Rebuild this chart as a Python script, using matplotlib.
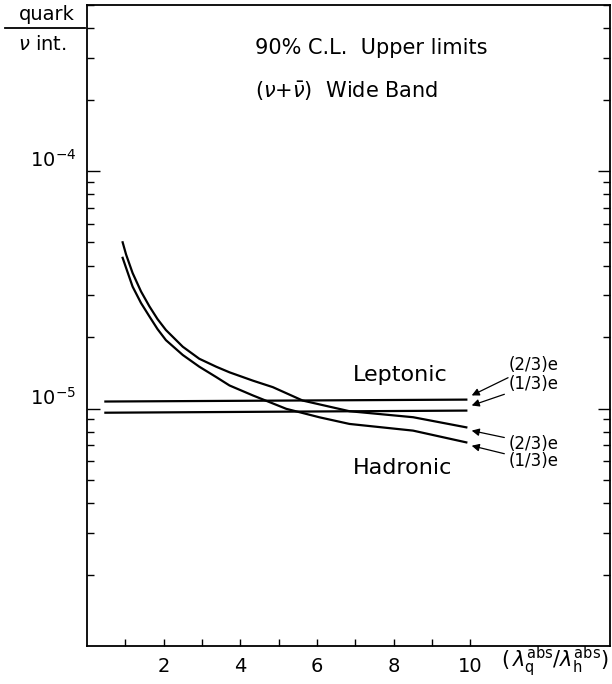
import matplotlib
matplotlib.use("Agg")
import matplotlib.pyplot as plt
from matplotlib.lines import Line2D
from matplotlib.ticker import NullFormatter, LogLocator

# data (y in units of 1e-5)
lep_x = [0.48, 9.9]
lep_23 = [1.07, 1.09]
lep_13 = [0.96, 0.98]

had_x23 = [0.93, 1.02, 1.19, 1.41, 1.63, 1.84, 2.06, 2.50, 2.93, 3.37, 3.72,
           4.33, 4.85, 5.63, 6.85, 8.51, 9.90]
had_23 = [5.01, 4.45, 3.72, 3.11, 2.69, 2.38, 2.14, 1.82, 1.62, 1.50, 1.42,
          1.31, 1.23, 1.08, 0.974, 0.919, 0.833]
had_x13 = [0.93, 1.02, 1.19, 1.41, 1.63, 1.84, 2.06, 2.50, 2.93, 3.37, 3.72,
           4.33, 5.20, 6.07, 6.85, 8.51, 9.90]
had_13 = [4.31, 3.91, 3.26, 2.78, 2.44, 2.16, 1.94, 1.68, 1.50, 1.357, 1.25,
          1.135, 0.997, 0.918, 0.861, 0.807, 0.72]

x_ticks = [1, 2, 3, 4, 5, 6, 7, 8, 9, 10]
x_labels = ["", "2", "", "4", "", "6", "", "8", "", "10"]
y_ticks = [1e-5, 1e-4]
y_labels = [r"$10^{-5}$", r"$10^{-4}$"]

plt.rcParams['font.family'] = ['DejaVu Sans']
plt.rcParams['mathtext.fontset'] = 'dejavusans'

fig = plt.figure(figsize=(6.12, 6.84), dpi=100)
W, H = 612, 684
x0, x1, ytop, ybot = 87, 610, 5, 646
ax = fig.add_axes([x0 / W, 1 - ybot / H, (x1 - x0) / W, (ybot - ytop) / H])

s = 1e-5
lw = 1.6
ax.plot(lep_x, [v * s for v in lep_23], color='black', lw=lw)
ax.plot(lep_x, [v * s for v in lep_13], color='black', lw=lw)
ax.plot(had_x23, [v * s for v in had_23], color='black', lw=lw)
ax.plot(had_x13, [v * s for v in had_13], color='black', lw=lw)

ax.set_yscale('log')
ax.set_xlim(0, 13.65)
ax.set_ylim(1e-6, 5e-4)

ax.set_xticks(x_ticks)
ax.set_xticklabels(x_labels, fontsize=14)
ax.set_yticks(y_ticks)
ax.set_yticklabels(y_labels, fontsize=14)
ax.yaxis.set_minor_locator(LogLocator(base=10, subs=range(2, 10)))
ax.yaxis.set_minor_formatter(NullFormatter())
for lab in ax.get_yticklabels():
    lab.set_va('bottom')

ax.tick_params(axis='x', which='both', direction='in', length=5, width=1,
               top=False, pad=8)
ax.tick_params(axis='y', which='major', direction='in', length=9, width=1,
               right=True, pad=8)
ax.tick_params(axis='y', which='minor', direction='in', length=5, width=1,
               right=True)
for sp in ax.spines.values():
    sp.set_linewidth(1.3)

# header text
fig.text(255 / W, 1 - 48 / H, "90% C.L.  Upper limits",
         fontsize=15, va='center', ha='left')
fig.text(255 / W, 1 - 91 / H, r"($\nu$+$\bar{\nu}$)  Wide Band",
         fontsize=15, va='center', ha='left')

fig.text(353 / W, 1 - 375 / H, "Leptonic", fontsize=16, va='center', ha='left')
fig.text(353 / W, 1 - 468 / H, "Hadronic", fontsize=16, va='center', ha='left')

# charge labels with arrows
arrow = dict(arrowstyle='-|>', color='black', lw=0.9, mutation_scale=11,
             shrinkA=1, shrinkB=0)
notes = [("(2/3)e", 10.04, 1.135, 1.52),
         ("(1/3)e", 10.04, 1.03, 1.264),
         ("(2/3)e", 10.04, 0.807, 0.711),
         ("(1/3)e", 10.04, 0.697, 0.602)]
for txt, xh, yh, yt in notes:
    ax.annotate(txt, xy=(xh, yh * s), xytext=(11.0, yt * s), fontsize=12,
                va='center', ha='left', arrowprops=arrow)

# y-axis label as a fraction
fig.text(47 / W, 1 - 15 / H, "quark", fontsize=14, ha='center', va='center')
fig.lines.append(Line2D([5 / W, 85 / W], [1 - 28 / H, 1 - 28 / H],
                        transform=fig.transFigure, color='black', lw=1.3))
fig.text(42 / W, 1 - 44 / H, r"$\nu$ int.", fontsize=14, ha='center', va='center')

# x-axis label
fig.text(609 / W, 1 - 662 / H,
         r"$(\,\lambda_{\rm q}^{\rm abs}/\lambda_{\rm h}^{\rm abs})$", fontsize=15,
         ha='right', va='center')

fig.savefig("out.png", dpi=100)
